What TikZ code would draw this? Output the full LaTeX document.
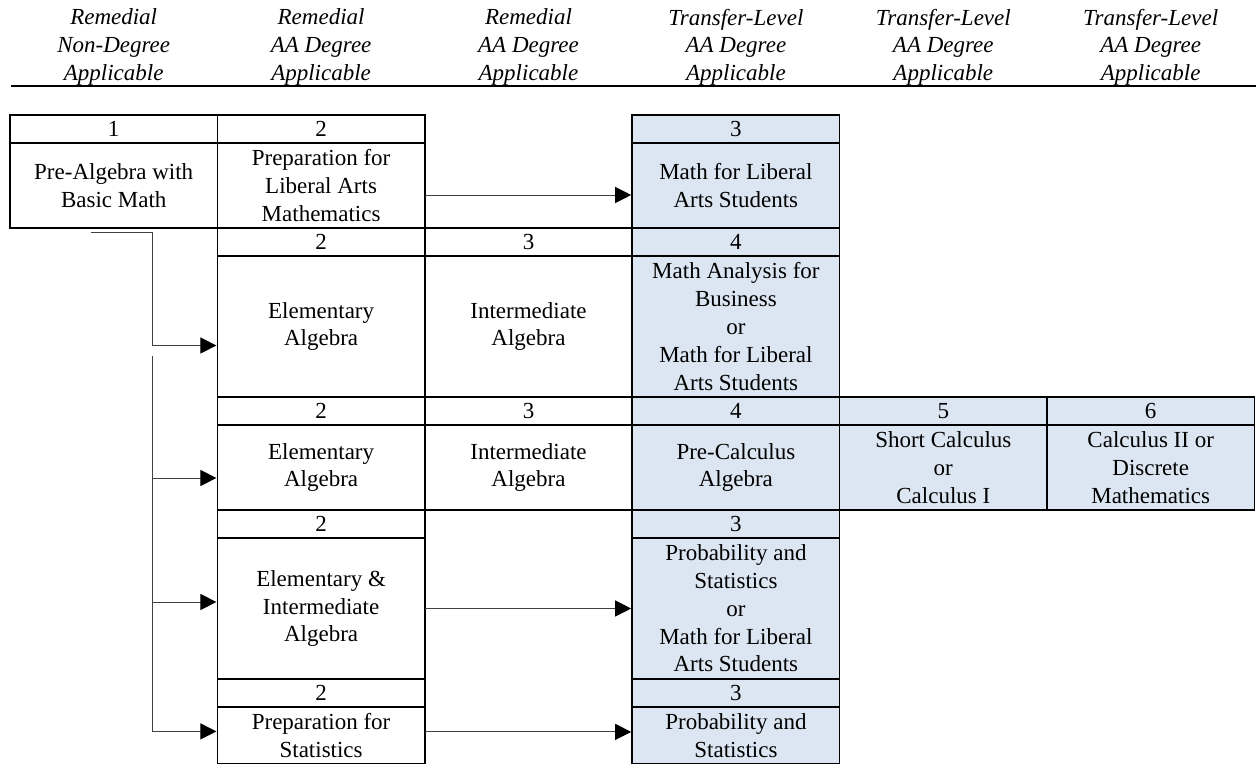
\documentclass[tikz,border=0pt]{standalone}
\usepackage{fontspec}
\setmainfont{Liberation Serif}
\usepackage{tikz}
\usetikzlibrary{arrows.meta, positioning, calc}
\definecolor{tlblue}{RGB}{220,230,242}
\definecolor{linkgray}{RGB}{64,64,64}
\tikzset{
  numbox/.style={draw, line width=1.5pt, minimum width=207.4pt, minimum height=28.2pt,
      inner sep=0pt, outer sep=0pt, fill=#1, text centered},
  numbox/.default=white,
  coursebox/.style={numbox=#1, align=center},
  coursebox/.default=white,
  hdrlbl/.style={align=center, font=\fontsize{23}{27.6}\selectfont\itshape},
  flowline/.style={-{Triangle[length=16pt, width=16pt, color=black]}, line width=1pt,
      draw=linkgray, shorten >=1pt},
}

\begin{document}
\begin{tikzpicture}[x=1pt, y=-1pt, font=\fontsize{23}{27.8}\selectfont]
        \useasboundingbox (0,0) rectangle (1256,765);
        \node[hdrlbl] (h1) at (113.7,47) {Remedial\\Non-Degree\\Applicable};
        \node[hdrlbl] (h2) at (321.1,47) {Remedial\\AA Degree\\Applicable};
        \node[hdrlbl] (h3) at (528.5,47) {Remedial\\AA Degree\\Applicable};
        \node[hdrlbl] (h4) at (735.9,47) {Transfer-Level\\AA Degree\\Applicable};
        \node[hdrlbl] (h5) at (943.3,47) {Transfer-Level\\AA Degree\\Applicable};
        \node[hdrlbl] (h6) at (1150.7,47) {Transfer-Level\\AA Degree\\Applicable};
        \draw[line width=1.6pt] (11,86) -- (1256,86);

        \node[numbox, anchor=north west] (n1a) at (10,115) {1};
        \node[numbox, right=0pt of n1a] (n1b) {2};
        \node[numbox=tlblue, right=207.4pt of n1b] (n1d) {3};
        \node[coursebox, minimum height=84.6pt, below=0pt of n1a] (prealg) {Pre-Algebra with\\Basic Math};
        \node[coursebox, minimum height=84.6pt, below=0pt of n1b] (preplib) {Preparation for\\Liberal Arts\\Mathematics};
        \node[coursebox=tlblue, minimum height=84.6pt, below=0pt of n1d] (mlas) {Math for Liberal\\Arts Students};

        \node[numbox, below=0pt of preplib] (n2b) {2};
        \node[numbox, right=0pt of n2b] (n2c) {3};
        \node[numbox=tlblue, right=0pt of n2c] (n2d) {4};
        \node[coursebox, minimum height=141pt, below=0pt of n2b] (elemA) {Elementary\\Algebra};
        \node[coursebox, minimum height=141pt, below=0pt of n2c] (interA) {Intermediate\\Algebra};
        \node[coursebox=tlblue, minimum height=141pt, below=0pt of n2d] (mathbus) {Math Analysis for\\Business\\or\\Math for Liberal\\Arts Students};

        \node[numbox, below=0pt of elemA] (n3b) {2};
        \node[numbox, right=0pt of n3b] (n3c) {3};
        \node[numbox=tlblue, right=0pt of n3c] (n3d) {4};
        \node[numbox=tlblue, right=0pt of n3d] (n3e) {5};
        \node[numbox=tlblue, right=0pt of n3e] (n3f) {6};
        \node[coursebox, minimum height=84.6pt, below=0pt of n3b] (elemB) {Elementary\\Algebra};
        \node[coursebox, minimum height=84.6pt, below=0pt of n3c] (interB) {Intermediate\\Algebra};
        \node[coursebox=tlblue, minimum height=84.6pt, below=0pt of n3d] (precalc) {Pre-Calculus\\Algebra};
        \node[coursebox=tlblue, minimum height=84.6pt, below=0pt of n3e] (calcone) {Short Calculus\\or\\Calculus I};
        \node[coursebox=tlblue, minimum height=84.6pt, below=0pt of n3f] (calctwo) {Calculus II or\\Discrete\\Mathematics};

        \node[numbox, below=0pt of elemB] (n4b) {2};
        \node[numbox=tlblue, right=207.4pt of n4b] (n4d) {3};
        \node[coursebox, minimum height=141pt, below=0pt of n4b] (elemint) {Elementary \&\\Intermediate\\Algebra};
        \node[coursebox=tlblue, minimum height=141pt, below=0pt of n4d] (probstat) {Probability and\\Statistics\\or\\Math for Liberal\\Arts Students};

        \node[numbox, below=0pt of elemint] (n5b) {2};
        \node[numbox=tlblue, right=207.4pt of n5b] (n5d) {3};
        \node[coursebox, minimum height=56.4pt, below=0pt of n5b] (prepstat) {Preparation for\\Statistics};
        \node[coursebox=tlblue, minimum height=56.4pt, below=0pt of n5d] (probstatB) {Probability and\\Statistics};

        \coordinate (jA) at ([xshift=-65pt,yshift=-19pt]elemA.west);
        \coordinate (inB) at ([yshift=-10.5pt]elemB.west);
        \coordinate (inC) at ([yshift=6.5pt]elemint.west);
        \coordinate (inD) at ([yshift=4pt]prepstat.west);
        \coordinate (outP) at ([yshift=-9.5pt]preplib.east);
        \draw[flowline] ([xshift=-23pt,yshift=-5pt]prealg.south) -| (jA) -- (jA -| elemA.west);
        \draw[flowline] ([yshift=-10pt]jA) |- (inD);
        \draw[flowline] (jA |- inB) -- (inB);
        \draw[flowline] (jA |- inC) -- (inC);
        \draw[flowline] (outP) -- (outP -| mlas.west);
        \draw[flowline] (elemint.east) -- (probstat.west);
        \draw[flowline] ([yshift=3.5pt]prepstat.east) -- ([yshift=3.5pt]probstatB.west);
      \end{tikzpicture}
\end{document}
